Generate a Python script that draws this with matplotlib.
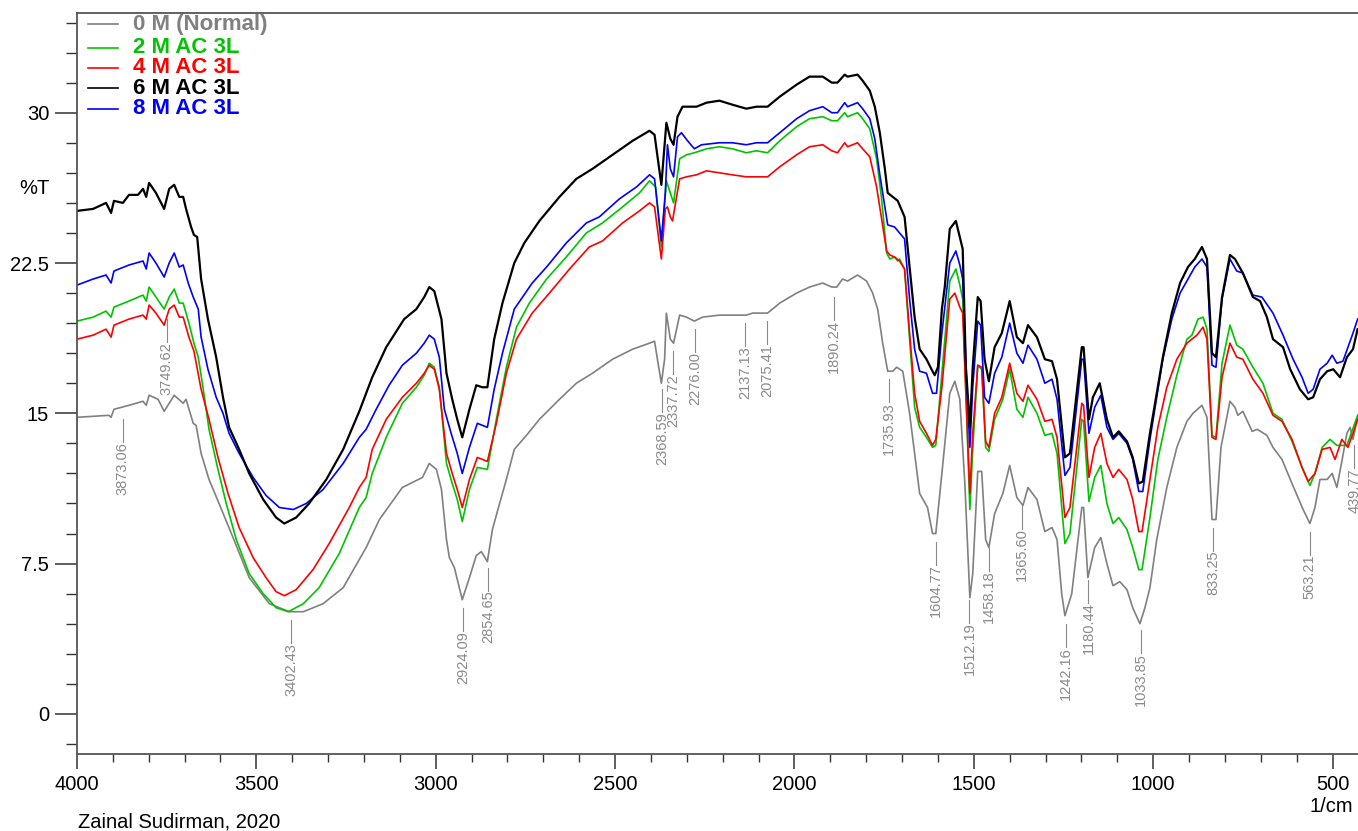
import numpy as np
import matplotlib
matplotlib.use("Agg")
import matplotlib.pyplot as plt
from matplotlib.ticker import MultipleLocator, FuncFormatter

plt.rcParams['font.family'] = ['Liberation Sans', 'DejaVu Sans']

# ---------------- data (wavenumber 1/cm, %T) ----------------
wn_0M = [4000, 3911, 3905, 3897, 3855, 3816, 3807, 3799, 3774, 3757, 3729, 3704, 3696, 3676, 3668,
         3654, 3632, 3604, 3565, 3520, 3464, 3408, 3369, 3314, 3258, 3194, 3157, 3093, 3037, 3018,
         2998, 2984, 2970, 2962, 2948, 2926, 2906, 2887, 2873, 2856, 2842, 2822, 2803, 2781, 2747,
         2711, 2655, 2608, 2563, 2507, 2451, 2404, 2390, 2382, 2371, 2362, 2357, 2346, 2337, 2320,
         2301, 2279, 2256, 2209, 2181, 2134, 2117, 2075, 2041, 1994, 1958, 1921, 1896, 1882, 1866,
         1852, 1824, 1799, 1782, 1768, 1754, 1740, 1726, 1715, 1698, 1679, 1665, 1651, 1629, 1615,
         1606, 1589, 1567, 1553, 1539, 1525, 1511, 1503, 1489, 1478, 1467, 1458, 1442, 1419, 1400,
         1380, 1363, 1349, 1324, 1302, 1282, 1268, 1255, 1246, 1227, 1199, 1194, 1182, 1163, 1146,
         1129, 1112, 1093, 1073, 1057, 1037, 1023, 1009, 990, 962, 934, 906, 889, 864, 850,
         836, 825, 811, 786, 772, 764, 750, 724, 710, 683, 666, 641, 613, 582, 563,
         549, 535, 515, 501, 488, 474, 460, 451, 443, 430]
t_0M = [14.8, 14.9, 14.8, 15.2, 15.4, 15.6, 15.4, 15.9, 15.7, 15.1, 15.9, 15.5, 15.7, 14.5, 14.4,
        13.0, 11.7, 10.5, 8.8, 6.8, 5.5, 5.1, 5.1, 5.5, 6.3, 8.3, 9.7, 11.3, 11.8, 12.5,
        12.2, 11.2, 8.7, 7.8, 7.3, 5.7, 6.8, 7.9, 8.1, 7.6, 9.2, 10.5, 11.7, 13.2, 13.9,
        14.7, 15.7, 16.5, 17.0, 17.7, 18.2, 18.5, 18.6, 17.7, 16.5, 17.7, 20.0, 18.7, 18.5, 19.9,
        19.8, 19.6, 19.8, 19.9, 19.9, 19.9, 20.0, 20.0, 20.5, 21.0, 21.3, 21.5, 21.3, 21.3, 21.7,
        21.6, 21.9, 21.6, 21.0, 20.2, 18.5, 17.1, 17.1, 17.3, 17.1, 15.0, 13.0, 11.0, 10.3, 9.0,
        9.0, 12.0, 16.0, 16.6, 15.7, 11.5, 5.8, 7.0, 12.1, 12.1, 8.7, 8.3, 10.0, 11.0, 12.4,
        10.8, 10.4, 11.3, 10.7, 9.1, 9.3, 8.7, 6.0, 4.9, 6.0, 10.3, 10.3, 6.8, 8.3, 8.8,
        7.5, 6.4, 6.6, 6.2, 5.3, 4.5, 5.3, 6.3, 8.7, 11.3, 13.3, 14.6, 15.0, 15.4, 14.8,
        9.7, 9.7, 13.3, 15.6, 15.3, 14.9, 15.1, 14.1, 14.2, 13.9, 13.3, 12.7, 11.5, 10.2, 9.5,
        10.3, 11.7, 11.7, 12.0, 11.3, 12.6, 14.0, 14.3, 13.7, 14.8]

wn_6M = [4000, 3955, 3919, 3905, 3897, 3872, 3855, 3830, 3816, 3807, 3799, 3780, 3757, 3743, 3729,
         3715, 3704, 3696, 3682, 3674, 3665, 3654, 3635, 3612, 3593, 3576, 3548, 3520, 3481, 3445,
         3422, 3389, 3353, 3305, 3258, 3213, 3177, 3138, 3088, 3054, 3032, 3018, 3004, 2984, 2970,
         2954, 2940, 2926, 2906, 2887, 2870, 2856, 2837, 2814, 2781, 2753, 2711, 2655, 2608, 2563,
         2507, 2451, 2432, 2404, 2390, 2371, 2357, 2346, 2337, 2326, 2312, 2273, 2245, 2209, 2173,
         2134, 2106, 2075, 2041, 1994, 1958, 1921, 1896, 1880, 1860, 1852, 1824, 1810, 1790, 1776,
         1762, 1748, 1740, 1726, 1712, 1693, 1679, 1665, 1651, 1632, 1618, 1609, 1600, 1589, 1581,
         1567, 1550, 1539, 1531, 1522, 1511, 1503, 1489, 1481, 1470, 1458, 1442, 1422, 1400, 1380,
         1363, 1349, 1324, 1302, 1282, 1268, 1246, 1232, 1199, 1194, 1179, 1168, 1149, 1129, 1112,
         1096, 1073, 1057, 1040, 1029, 1009, 990, 973, 948, 925, 903, 884, 864, 850, 836,
         825, 808, 786, 772, 750, 722, 702, 683, 666, 638, 618, 591, 568, 554, 535,
         515, 498, 479, 460, 443, 430]
t_6M = [25.1, 25.2, 25.5, 25.0, 25.6, 25.5, 25.9, 25.9, 26.2, 25.8, 26.5, 26.0, 25.2, 26.2, 26.4,
        25.8, 25.8, 25.2, 24.3, 23.9, 23.8, 21.7, 19.7, 17.8, 15.8, 14.3, 13.2, 12.0, 10.7, 9.8,
        9.5, 9.8, 10.5, 11.7, 13.2, 15.1, 16.8, 18.3, 19.7, 20.2, 20.8, 21.3, 21.1, 19.7, 17.0,
        15.7, 14.7, 13.8, 15.2, 16.4, 16.3, 16.3, 18.7, 20.5, 22.5, 23.5, 24.6, 25.8, 26.7, 27.2,
        27.9, 28.6, 28.8, 29.1, 28.9, 26.4, 29.5, 28.7, 28.4, 29.8, 30.3, 30.3, 30.5, 30.6, 30.4,
        30.2, 30.3, 30.3, 30.8, 31.4, 31.8, 31.8, 31.5, 31.5, 31.9, 31.8, 31.9, 31.6, 31.1, 30.3,
        29.0, 27.2, 26.0, 25.8, 25.6, 24.8, 22.3, 19.8, 18.2, 17.7, 17.2, 16.9, 17.3, 20.2, 21.3,
        24.2, 24.6, 23.8, 23.2, 17.3, 14.3, 17.3, 20.8, 20.6, 17.7, 16.6, 18.3, 19.0, 20.6, 18.8,
        18.5, 19.4, 18.8, 17.7, 17.6, 16.7, 12.8, 13.0, 18.3, 18.3, 14.7, 15.8, 16.5, 14.7, 13.8,
        14.1, 13.6, 12.8, 11.5, 11.6, 14.0, 16.0, 17.8, 20.0, 21.5, 22.3, 22.7, 23.3, 22.7, 18.0,
        17.8, 20.8, 22.9, 22.7, 22.0, 20.8, 20.6, 19.8, 18.7, 18.3, 17.2, 16.2, 15.7, 15.8, 16.7,
        17.1, 17.2, 16.8, 17.8, 18.2, 19.2]

wn_8M = [4000, 3955, 3919, 3905, 3897, 3855, 3816, 3807, 3799, 3780, 3757, 3743, 3729, 3715, 3704,
         3690, 3676, 3662, 3654, 3635, 3612, 3593, 3576, 3548, 3509, 3473, 3436, 3397, 3361, 3314,
         3258, 3213, 3194, 3166, 3130, 3093, 3054, 3032, 3018, 3004, 2990, 2976, 2957, 2940, 2926,
         2906, 2884, 2856, 2837, 2814, 2781, 2731, 2691, 2636, 2580, 2544, 2488, 2440, 2404, 2390,
         2371, 2360, 2354, 2346, 2337, 2326, 2315, 2298, 2279, 2259, 2209, 2173, 2134, 2106, 2075,
         2041, 1994, 1958, 1921, 1896, 1880, 1860, 1852, 1824, 1810, 1790, 1776, 1762, 1748, 1740,
         1721, 1707, 1693, 1679, 1665, 1651, 1632, 1615, 1604, 1589, 1567, 1550, 1539, 1531, 1522,
         1511, 1503, 1489, 1481, 1470, 1458, 1442, 1422, 1400, 1380, 1363, 1349, 1324, 1302, 1282,
         1268, 1246, 1232, 1199, 1194, 1179, 1163, 1146, 1129, 1112, 1096, 1073, 1057, 1040, 1029,
         1009, 990, 973, 948, 925, 903, 884, 864, 850, 836, 825, 808, 786, 767, 750,
         722, 697, 666, 638, 610, 585, 568, 554, 535, 515, 501, 488, 471, 457, 443,
         430]
t_8M = [21.4, 21.7, 21.9, 21.5, 22.1, 22.4, 22.6, 22.2, 23.0, 22.5, 21.8, 22.5, 23.0, 22.3, 22.4,
        21.5, 20.8, 20.2, 18.8, 17.2, 15.8, 15.0, 14.0, 13.0, 11.8, 10.9, 10.3, 10.2, 10.5, 11.2,
        12.5, 13.8, 14.2, 15.2, 16.4, 17.4, 18.0, 18.5, 18.9, 18.7, 17.8, 15.2, 14.0, 13.0, 12.0,
        13.3, 14.5, 14.3, 16.2, 18.0, 20.2, 21.5, 22.3, 23.5, 24.5, 24.8, 25.7, 26.3, 26.9, 26.7,
        23.6, 26.0, 28.4, 27.2, 26.8, 28.8, 29.0, 28.6, 28.2, 28.4, 28.5, 28.5, 28.4, 28.5, 28.5,
        29.0, 29.7, 30.1, 30.3, 30.0, 30.0, 30.5, 30.3, 30.5, 30.2, 29.7, 28.7, 26.9, 25.3, 24.4,
        24.3, 24.0, 23.7, 20.7, 18.2, 17.1, 17.0, 16.0, 16.0, 19.0, 22.5, 23.1, 22.4, 21.7, 17.3,
        13.3, 16.3, 19.6, 19.4, 15.8, 15.5, 17.0, 17.8, 19.5, 18.0, 17.5, 18.4, 17.7, 16.5, 16.7,
        15.7, 11.9, 12.3, 17.7, 17.7, 14.0, 15.3, 15.9, 14.3, 13.7, 14.0, 13.5, 12.7, 11.1, 11.1,
        13.7, 15.8, 17.7, 19.7, 21.0, 21.7, 22.3, 22.7, 22.3, 17.4, 17.3, 20.7, 22.7, 22.1, 22.0,
        20.9, 20.8, 20.0, 18.9, 17.7, 16.8, 16.0, 16.2, 17.2, 17.5, 17.9, 17.5, 17.6, 18.3, 19.0,
        19.7]

wn_2M = [4000, 3955, 3919, 3905, 3897, 3855, 3816, 3807, 3799, 3780, 3757, 3743, 3729, 3715, 3704,
         3688, 3674, 3662, 3648, 3632, 3607, 3584, 3556, 3520, 3481, 3445, 3411, 3369, 3325, 3269,
         3213, 3194, 3177, 3138, 3093, 3054, 3032, 3018, 3004, 2990, 2970, 2954, 2940, 2926, 2906,
         2884, 2856, 2831, 2803, 2775, 2739, 2691, 2636, 2580, 2535, 2479, 2432, 2404, 2387, 2371,
         2357, 2346, 2337, 2320, 2301, 2279, 2245, 2209, 2173, 2134, 2106, 2075, 2041, 1994, 1958,
         1921, 1896, 1880, 1860, 1852, 1824, 1810, 1790, 1771, 1757, 1743, 1734, 1721, 1712, 1707,
         1693, 1679, 1665, 1651, 1632, 1615, 1606, 1589, 1567, 1550, 1539, 1531, 1511, 1503, 1489,
         1478, 1467, 1458, 1442, 1419, 1400, 1380, 1363, 1349, 1324, 1302, 1282, 1268, 1246, 1232,
         1199, 1194, 1179, 1163, 1146, 1129, 1112, 1096, 1073, 1057, 1040, 1031, 1009, 987, 962,
         934, 906, 892, 875, 861, 850, 836, 825, 808, 786, 767, 750, 722, 694, 666,
         641, 613, 585, 563, 549, 529, 507, 488, 460, 430]
t_2M = [19.6, 19.8, 20.1, 19.8, 20.3, 20.6, 20.9, 20.6, 21.3, 20.8, 20.2, 20.8, 21.2, 20.5, 20.5,
        19.5, 18.5, 17.8, 16.2, 14.2, 12.2, 10.5, 8.7, 7.0, 6.0, 5.3, 5.1, 5.5, 6.3, 8.0,
        10.3, 10.8, 12.0, 13.8, 15.5, 16.3, 16.9, 17.5, 17.3, 16.3, 12.5, 11.5, 10.7, 9.6, 11.2,
        12.3, 12.2, 14.7, 17.3, 19.3, 20.5, 21.7, 22.8, 24.0, 24.5, 25.3, 26.0, 26.6, 26.3, 23.3,
        26.6, 26.0, 25.5, 27.7, 27.9, 28.0, 28.2, 28.3, 28.2, 28.0, 28.1, 28.0, 28.6, 29.3, 29.7,
        29.8, 29.6, 29.6, 30.0, 29.8, 30.0, 29.7, 29.2, 27.7, 25.7, 23.0, 22.7, 22.8, 22.6, 22.7,
        22.2, 18.7, 15.3, 14.3, 13.8, 13.3, 13.4, 17.0, 21.6, 22.2, 21.4, 20.7, 10.2, 13.2, 17.4,
        17.2, 13.3, 13.1, 14.7, 15.7, 17.2, 15.2, 14.8, 15.8, 15.0, 13.9, 14.0, 13.0, 8.5, 9.0,
        14.7, 14.6, 10.6, 11.8, 12.4, 10.5, 9.5, 9.8, 9.2, 8.3, 7.2, 7.2, 9.8, 12.7, 14.8,
        16.9, 18.7, 18.9, 19.7, 19.8, 19.2, 13.9, 13.8, 17.5, 19.4, 18.4, 18.2, 17.3, 16.5, 15.0,
        14.7, 13.6, 12.3, 11.4, 12.0, 13.3, 13.7, 13.4, 13.4, 14.9]

wn_4M = [4000, 3955, 3919, 3905, 3897, 3855, 3816, 3807, 3799, 3780, 3757, 3743, 3729, 3715, 3704,
         3688, 3674, 3654, 3632, 3607, 3579, 3548, 3509, 3473, 3445, 3422, 3389, 3342, 3297, 3241,
         3213, 3194, 3177, 3138, 3093, 3054, 3032, 3018, 3004, 2990, 2970, 2954, 2940, 2926, 2906,
         2884, 2856, 2831, 2803, 2775, 2731, 2683, 2627, 2572, 2535, 2479, 2432, 2404, 2390, 2371,
         2360, 2354, 2346, 2340, 2320, 2301, 2273, 2245, 2209, 2173, 2134, 2106, 2075, 2041, 1994,
         1958, 1921, 1896, 1880, 1860, 1852, 1824, 1810, 1790, 1771, 1757, 1743, 1734, 1721, 1707,
         1693, 1679, 1665, 1651, 1632, 1615, 1606, 1589, 1567, 1553, 1539, 1531, 1511, 1503, 1489,
         1478, 1467, 1458, 1442, 1422, 1400, 1380, 1363, 1349, 1324, 1302, 1282, 1268, 1246, 1232,
         1199, 1194, 1179, 1163, 1146, 1129, 1112, 1096, 1073, 1057, 1040, 1031, 1009, 987, 962,
         934, 906, 878, 861, 850, 836, 825, 808, 786, 767, 750, 722, 694, 666, 641,
         613, 585, 568, 549, 529, 507, 493, 474, 457, 443, 430]
t_4M = [18.7, 18.9, 19.2, 18.8, 19.4, 19.7, 19.9, 19.7, 20.4, 20.0, 19.4, 20.2, 20.4, 19.8, 19.8,
        18.8, 18.1, 16.2, 14.7, 12.8, 11.0, 9.3, 7.8, 6.8, 6.1, 5.9, 6.2, 7.2, 8.5, 10.3,
        11.3, 11.8, 13.2, 14.7, 15.8, 16.5, 17.0, 17.4, 17.2, 16.2, 13.0, 12.0, 11.2, 10.3, 11.7,
        12.8, 12.6, 14.5, 17.0, 18.7, 20.0, 21.0, 22.2, 23.3, 23.6, 24.5, 25.1, 25.5, 25.3, 22.7,
        25.2, 25.3, 24.8, 24.6, 26.7, 26.8, 26.9, 27.1, 27.0, 26.9, 26.8, 26.8, 26.8, 27.3, 27.9,
        28.3, 28.4, 28.1, 28.0, 28.5, 28.3, 28.5, 28.2, 27.8, 26.3, 24.7, 23.1, 22.9, 22.8, 22.6,
        22.2, 19.0, 16.0, 14.6, 14.0, 13.4, 13.7, 16.3, 20.7, 21.0, 20.3, 20.0, 11.0, 14.0, 17.4,
        17.3, 13.6, 13.3, 15.0, 15.8, 17.5, 16.0, 15.6, 16.4, 15.7, 14.6, 14.7, 13.8, 9.8, 10.3,
        15.5, 15.4, 11.8, 13.3, 14.0, 12.5, 11.8, 12.2, 11.7, 10.7, 9.1, 9.1, 11.7, 14.3, 16.3,
        17.7, 18.5, 18.9, 19.3, 18.7, 13.8, 13.7, 16.8, 18.5, 17.8, 17.7, 16.7, 16.0, 14.9, 14.6,
        13.7, 12.3, 11.6, 12.0, 13.2, 13.3, 12.7, 13.7, 13.3, 14.0, 14.7]

# peak labels (0 M curve): wavenumber, %T where the leader starts
peak_wn = [3873.06, 3749.62, 3402.43, 2924.09, 2854.65, 2368.59, 2337.72, 2276.00, 2137.13, 2075.41,
           1890.24, 1735.93, 1604.77, 1512.19, 1458.18, 1365.60, 1242.16, 1180.44, 1033.85, 833.25,
           563.21, 439.77]
peak_top = [14.7, 15.9, 4.7, 5.3, 7.3, 16.2, 18.1, 19.2, 19.5, 19.6,
            20.8, 16.7, 8.6, 5.7, 8.3, 10.4, 4.5, 6.7, 4.2, 9.3,
            9.1, 13.4]
peak_above = [False, True] + [False] * 20

series = [
    ("0 M (Normal)", wn_0M, t_0M, "#808080", 1.2),
    ("2 M AC 3L", wn_2M, t_2M, "#00C400", 1.2),
    ("4 M AC 3L", wn_4M, t_4M, "#FF0000", 1.2),
    ("8 M AC 3L", wn_8M, t_8M, "#0000FF", 1.2),
    ("6 M AC 3L", wn_6M, t_6M, "#000000", 1.6),
]
legend_order = ["0 M (Normal)", "2 M AC 3L", "4 M AC 3L", "6 M AC 3L", "8 M AC 3L"]

# ---------------- figure ----------------
W, H = 1358, 831
fig = plt.figure(figsize=(W / 100, H / 100), dpi=100)
ax = fig.add_axes([77 / W, 1 - 754 / H, (W - 77) / W, (754 - 12.5) / H])

for name, x, y, c, lw in series:
    ax.plot(x, y, color=c, lw=lw, solid_joinstyle='round')

ax.set_xlim(4000, 429)
ax.set_ylim(-2, 35)

ax.xaxis.set_major_locator(MultipleLocator(500))
ax.xaxis.set_minor_locator(MultipleLocator(100))
ax.yaxis.set_major_locator(MultipleLocator(7.5))
ax.yaxis.set_minor_locator(MultipleLocator(1.5))
ax.yaxis.set_major_formatter(FuncFormatter(lambda v, p: ("%g" % v)))
ax.xaxis.set_major_formatter(FuncFormatter(lambda v, p: ("%d" % v)))

ax.tick_params(axis='y', which='major', length=16, width=1.1, color='#333333',
               labelsize=14.5, pad=4, direction='out')
ax.tick_params(axis='y', which='minor', length=8, width=1.0, color='#333333', direction='out')
ax.tick_params(axis='x', which='major', length=11, width=1.1, color='#333333',
               labelsize=14.5, pad=4, direction='out')
ax.tick_params(axis='x', which='minor', length=5.5, width=1.0, color='#333333', direction='out')

for s in ['left', 'top', 'bottom']:
    ax.spines[s].set_color('#555555')
    ax.spines[s].set_linewidth(1.3)
ax.spines['right'].set_visible(False)

# peak labels
lab_col = '#8a8a8a'
lead = 1.15
for wn, top, above in zip(peak_wn, peak_top, peak_above):
    txt = "%.2f" % wn
    if above:
        ax.text(wn, top, txt, rotation=90, ha='center', va='bottom',
                fontsize=10.5, color=lab_col)
        ax.plot([wn, wn], [top + 2.65, top + 2.65 + lead], color=lab_col, lw=0.8)
    else:
        ax.plot([wn, wn], [top, top - lead], color=lab_col, lw=0.8, clip_on=True)
        ax.text(wn, top - lead, txt, rotation=90, ha='center', va='top',
                fontsize=10.5, color=lab_col, clip_on=True)

# legend drawn manually
leg_rows = [24.3, 47.5, 67.5, 88.0, 108.8]
colors = {n: c for n, _, _, c, _ in series}
for name, py in zip(legend_order, leg_rows):
    yf = 1 - py / H
    fig.add_artist(plt.Line2D([88 / W, 118 / W], [yf, yf], color=colors[name], lw=1.2,
                              transform=fig.transFigure))
    fig.text(133 / W, yf, name, color=colors[name], fontsize=16, fontweight='bold',
             ha='left', va='center')

fig.text(34 / W, 1 - 188 / H, "%T", fontsize=14.5, ha='center', va='center')
fig.text(1331 / W, 1 - 806 / H, "1/cm", fontsize=14.5, ha='center', va='center')
fig.text(78 / W, 1 - 822 / H, "Zainal Sudirman, 2020", fontsize=14.5, ha='left', va='center')

fig.savefig("out.png", dpi=100)
